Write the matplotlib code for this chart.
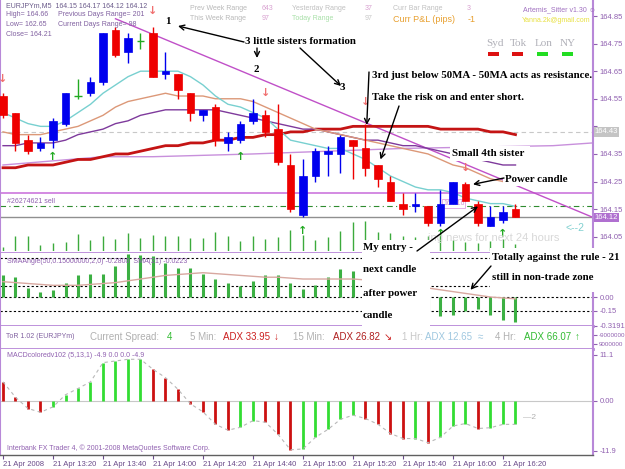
import matplotlib
matplotlib.use("Agg")
import matplotlib.pyplot as plt
from matplotlib.patches import Rectangle
from matplotlib.transforms import blended_transform_factory

W, H = 625, 469

# EURJPYm M5 candles, 21 Apr 2008 13:00 .. 16:25
opens = [164.56, 164.50, 164.40, 164.37, 164.40, 164.46, 164.56, 164.57, 164.61, 164.80,
         164.72, 164.76, 164.79, 164.64, 164.64, 164.57, 164.49, 164.52, 164.39, 164.40,
         164.47, 164.49, 164.44, 164.31, 164.13, 164.27, 164.35, 164.35, 164.40, 164.37,
         164.31, 164.25, 164.17, 164.16, 164.16, 164.10, 164.17, 164.24, 164.17, 164.09,
         164.11, 164.15]
highs = [164.57, 164.50, 164.42, 164.41, 164.48, 164.57, 164.62, 164.63, 164.79, 164.81,
         164.79, 164.79, 164.81, 164.72, 164.64, 164.57, 164.51, 164.53, 164.43, 164.47,
         164.55, 164.51, 164.53, 164.35, 164.33, 164.37, 164.38, 164.42, 164.40, 164.46,
         164.31, 164.27, 164.21, 164.21, 164.16, 164.22, 164.25, 164.25, 164.18, 164.16,
         164.16, 164.17]
lows = [164.48, 164.36, 164.35, 164.36, 164.37, 164.45, 164.55, 164.56, 164.60, 164.70,
        164.68, 164.73, 164.63, 164.62, 164.55, 164.47, 164.47, 164.38, 164.36, 164.39,
        164.46, 164.41, 164.31, 164.14, 164.12, 164.25, 164.27, 164.28, 164.26, 164.27,
        164.23, 164.18, 164.13, 164.14, 164.09, 164.09, 164.17, 164.18, 164.09, 164.09,
        164.10, 164.12]
closes = [164.49, 164.39, 164.36, 164.39, 164.47, 164.57, 164.56, 164.61, 164.79, 164.71,
          164.77, 164.76, 164.63, 164.65, 164.58, 164.50, 164.51, 164.40, 164.41, 164.46,
          164.50, 164.43, 164.32, 164.15, 164.27, 164.36, 164.36, 164.41, 164.38, 164.30,
          164.26, 164.18, 164.15, 164.17, 164.10, 164.17, 164.25, 164.18, 164.10, 164.12,
          164.14, 164.12]

ma_fast = [164.50, 164.48, 164.46, 164.45, 164.45, 164.47, 164.50, 164.53, 164.57, 164.60,
           164.63, 164.65, 164.65, 164.65, 164.65, 164.63, 164.60, 164.56, 164.53, 164.52,
           164.50, 164.48, 164.44, 164.40, 164.39, 164.38, 164.37, 164.37, 164.35, 164.33,
           164.30, 164.27, 164.25, 164.23, 164.22, 164.22, 164.21, 164.19, 164.18, 164.17,
           164.17, 164.16]
ma_mid = [164.43, 164.42, 164.42, 164.42, 164.43, 164.44, 164.45, 164.47, 164.49, 164.52,
          164.54, 164.55, 164.56, 164.57, 164.56, 164.56, 164.56, 164.55, 164.55, 164.55,
          164.54, 164.52, 164.50, 164.48, 164.46, 164.44, 164.43, 164.42, 164.41, 164.40,
          164.39, 164.38, 164.37, 164.36, 164.35, 164.33, 164.31, 164.30, 164.28, 164.26,
          164.25, 164.24]
ma_slow = [164.38, 164.38, 164.39, 164.39, 164.39, 164.40, 164.42, 164.43, 164.44, 164.46,
           164.47, 164.49, 164.50, 164.51, 164.51, 164.51, 164.51, 164.51, 164.50, 164.49,
           164.48, 164.47, 164.46, 164.45, 164.44, 164.44, 164.43, 164.42, 164.41, 164.40,
           164.40, 164.39, 164.38, 164.38, 164.37, 164.36, 164.35, 164.34, 164.33, 164.32,
           164.31, 164.31]
ma50 = [164.30, 164.30, 164.31, 164.31, 164.31, 164.32, 164.33, 164.33, 164.34, 164.35,
        164.35, 164.36, 164.37, 164.38, 164.38, 164.39, 164.39, 164.40, 164.40, 164.41,
        164.41, 164.42, 164.42, 164.43, 164.43, 164.44, 164.44, 164.44, 164.45, 164.45,
        164.45, 164.45, 164.45, 164.45, 164.45, 164.44, 164.44, 164.44, 164.44, 164.43,
        164.43, 164.42]
# shifted long MA runs past the last bar
long_ma_x = [0, 8, 12, 20, 26, 32, 44, 47.2]
long_ma = [164.31, 164.34, 164.34, 164.35, 164.36, 164.37, 164.38, 164.39]

trend_x = [9, 47.2]
trend_y = [164.84, 164.12]

prev_close = 164.21
order_price = 164.16
bid = 164.12
ask_mark = 164.43

down_sig = [0, 12, 21, 29, 37]
down_sig_y = [164.62, 164.87, 164.57, 164.54, 164.30]
up_sig = [4, 19, 24, 35, 40]
up_sig_y = [164.34, 164.34, 164.07, 164.06, 164.06]

volumes = [9, 30, 30, 13, 17, 19, 34, 22, 30, 25, 37, 27, 32, 30, 30, 27, 26, 39, 31, 20,
           30, 25, 29, 42, 33, 22, 28, 40, 59, 61, 38, 36, 30, 28, 30, 32, 22, 18, 16, 20,
           24, 14]

sma_angle = [0.25, 0.22, 0.10, 0.06, 0.08, 0.16, 0.25, 0.26, 0.26, 0.35, 0.48, 0.47, 0.46,
             0.38, 0.32, 0.32, 0.26, 0.20, 0.16, 0.12, 0.18, 0.25, 0.25, 0.16, 0.09, 0.13,
             0.22, 0.31, 0.29, 0.20, 0.12, 0.05, -0.04, -0.10, -0.16, -0.21, -0.20, -0.16,
             -0.13, -0.20, -0.26, -0.28]
sma_ma = [0.17, 0.16, 0.15, 0.14, 0.13, 0.13, 0.13, 0.14, 0.15, 0.16, 0.18, 0.20, 0.22,
          0.24, 0.25, 0.26, 0.27, 0.26, 0.25, 0.24, 0.23, 0.22, 0.22, 0.21, 0.20, 0.20,
          0.20, 0.20, 0.20, 0.19, 0.18, 0.16, 0.14, 0.12, 0.10, 0.08, 0.06, 0.04, 0.02,
          0.00, -0.01, -0.02]
sma_levels = [0.43, 0.12, 0.0, -0.15]

macd = [4.6, 0.9, -1.8, -2.7, -1.4, 1.5, 3.0, 4.6, 9.2, 9.6, 10.0, 10.0, 7.6, 5.6, 2.8,
        -0.7, -2.6, -5.6, -7.0, -6.3, -4.7, -5.1, -8.0, -11.7, -11.5, -8.7, -6.8, -4.4,
        -3.4, -4.2, -5.6, -7.8, -9.0, -9.0, -10.0, -8.7, -6.0, -5.4, -6.6, -6.4, -5.6, -5.6]
macd_up = [0, 0, 0, 0, 1, 1, 1, 1, 1, 1, 1, 1, 0, 0, 0, 0, 0, 0, 0, 1, 1, 0, 0, 0, 1, 1,
           1, 1, 1, 0, 0, 0, 0, 1, 0, 1, 1, 1, 0, 1, 1, 1]

date_pos = [0, 4, 8, 12, 16, 20, 24, 28, 32, 36, 40]
date_labels = ['21 Apr 2008', '21 Apr 13:20', '21 Apr 13:40', '21 Apr 14:00', '21 Apr 14:20',
               '21 Apr 14:40', '21 Apr 15:00', '21 Apr 15:20', '21 Apr 15:40', '21 Apr 16:00',
               '21 Apr 16:20']

idx = list(range(len(opens)))
PURPLE = '#B888D8'
LABEL = '#9060B0'
XL = (-0.24, 47.2)

fig = plt.figure(figsize=(W / 100, H / 100), dpi=100)
fig.patch.set_facecolor('white')


def rect(top, bottom, right=593):
    return [0, 1 - bottom / H, right / W, (bottom - top) / H]


def frame(a, lw_bottom=2):
    a.set_xlim(*XL)
    a.set_xticks([])
    for s in ['left', 'right']:
        a.spines[s].set_color(PURPLE)
        a.spines[s].set_linewidth(1.5)
    a.spines['top'].set_visible(False)
    a.spines['bottom'].set_color(PURPLE)
    a.spines['bottom'].set_linewidth(lw_bottom)
    a.yaxis.tick_right()
    a.tick_params(axis='y', direction='out', length=3, colors=LABEL, labelsize=5.5, pad=2)


# ---------------- main price panel
ax = fig.add_axes(rect(0, 253))
frame(ax)
ax.set_ylim(163.991, 164.908)
ticks = [164.05, 164.15, 164.25, 164.35, 164.45, 164.55, 164.65, 164.75, 164.85]
ax.set_yticks(ticks)
# 164.45 sits under the grey 164.43 marker box
ax.set_yticklabels(['' if t == 164.45 else '%.2f' % t for t in ticks], family='Liberation Sans')

ax.axhline(ask_mark, color='#C8C8C8', lw=0.8, ls=(0, (4, 3)))
ax.axhline(prev_close, color='#CC77DD', lw=1.2)
ax.axhline(order_price, color='#2E8B2E', lw=0.8, ls=(0, (5, 3, 1, 3)))
ax.axhline(bid, color='#909090', lw=1)

ax.plot(long_ma_x, long_ma, color='#C890DC', lw=1)
ax.plot(trend_x, trend_y, color='#C050C8', lw=1)
ax.plot(idx, ma50, color='#C41414', lw=2)
ax.plot(idx, ma_slow, color='#7E3A9C', lw=1)
ax.plot(idx, ma_mid, color='#DC9878', lw=1)
ax.plot(idx, ma_fast, color='#78D0D0', lw=1)

for i in idx:
    o, h, l, c = opens[i], highs[i], lows[i], closes[i]
    if o == c:
        col = '#22AA22'
    elif c > o:
        col = '#0000EE'
    else:
        col = '#EE0000'
    ax.vlines(i, l, h, color=col, lw=1, zorder=3)
    if o == c:
        ax.hlines(o, i - 0.3, i + 0.3, color=col, lw=1, zorder=3)
    else:
        ax.add_patch(Rectangle((i - 0.31, min(o, c)), 0.62, max(abs(c - o), 0.006),
                               facecolor=col, edgecolor=col, lw=0.5, zorder=4))

for i, y in zip(down_sig, down_sig_y):
    ax.text(i, y, '↓', color='#F07070', ha='center', va='center', fontsize=8, fontweight='bold')
for i, y in zip(up_sig, up_sig_y):
    ax.text(i, y, '↑', color='#22AA22', ha='center', va='center', fontsize=8, fontweight='bold')

ax.text(0.3, order_price + 0.017, '#26274621 sell', color='#9060B0', fontsize=5,
        family='Liberation Sans', va='center')
ax.text(35.2, order_price + 0.01, '164.16', color='#D090D0', fontsize=5, family='Liberation Sans',
        va='center', bbox=dict(fc='white', ec='#E0A0E0', lw=0.6, pad=0.6))
bt = blended_transform_factory(ax.transAxes, ax.transData)
ax.text(1.003, ask_mark, '164.43', transform=bt, color='white', fontsize=5.5,
        family='Liberation Sans', va='center', bbox=dict(fc='#C4C4C4', ec='none', pad=0.8))
ax.text(1.003, bid, '164.12', transform=bt, color='white', fontsize=5.5,
        family='Liberation Sans', va='center', bbox=dict(fc='#B070D0', ec='none', pad=0.8))

# volumes at the bottom of the main window
axv = fig.add_axes(rect(219, 251))
axv.set_xlim(*XL)
axv.set_ylim(0, 64)
axv.axis('off')
axv.patch.set_alpha(0)
axv.vlines(idx, 0, volumes, color='#3CAA3C', lw=1)

# ---------------- SMA angle panel
axs = fig.add_axes(rect(253, 326))
frame(axs)
axs.set_ylim(-0.322, 0.489)
axs.set_yticks([0.0, -0.15, -0.3191])
axs.set_yticklabels(['0.00', '-0.15', '-0.3191'], family='Liberation Sans')
for lv in sma_levels:
    axs.axhline(lv, color='black', lw=0.8, ls=(0, (2, 2)))
axs.vlines(idx, 0, sma_angle, color='#3CB043', lw=2.2)
axs.plot(idx, sma_ma, color='#D8A8A0', lw=1)
axs.text(0.3, 0.40, 'SMAAngle(50,0.15000000,2,0) -0.2800  SMA(21) -0.0223', color='#9060B0',
         fontsize=5, family='Liberation Sans', va='center')

# ---------------- ToR panel
axt = fig.add_axes(rect(326, 349))
frame(axt)
axt.set_ylim(0, 1)
axt.set_yticks([0.62, 0.2])
axt.set_yticklabels(['-9000000', '9000000'], family='Liberation Sans')
axt.tick_params(axis='y', labelsize=4.5, pad=1)

# ---------------- MACD panel
axm = fig.add_axes(rect(349, 455))
frame(axm, lw_bottom=1)
axm.spines['bottom'].set_color('#606060')
axm.set_ylim(-12.95, 12.47)
axm.set_yticks([11.1, 0.0, -11.9])
axm.set_yticklabels(['11.1', '0.00', '-11.9'], family='Liberation Sans')
axm.axhline(0, color='#C8C8C8', lw=0.8)
axm.vlines(idx, 0, macd, colors=['#33DD33' if u else '#CC1111' for u in macd_up], lw=2)
axm.plot(idx, macd, color='#B8B8B8', lw=0.8, ls=(0, (3, 3)))
axm.set_xticks(date_pos)
axm.set_xticklabels(date_labels, ha='left', family='Liberation Sans')
axm.tick_params(axis='x', direction='out', length=3, colors='#6A4A8A', labelsize=5.5, pad=1)
axm.text(0.3, 10.8, 'MACDcoloredv102 (5,13,1) -4.9 0.0 0.0 -4.9', color='#9060B0', fontsize=5,
         family='Liberation Sans', va='center')
axm.text(0.3, -11.3, 'Interbank FX Trader 4, \u00a9 2001-2008 MetaQuotes Software Corp.',
         color='#9060B0', fontsize=5, family='Liberation Sans', va='center')
axm.text(41.6, -4.0, '\u20142', color='#B0B0B0', fontsize=6, family='Liberation Sans', va='center')

# ---------------- overlay: terminal labels and hand annotations (pixel space)
ov = fig.add_axes([0, 0, 1, 1], zorder=10)
ov.set_xlim(0, W)
ov.set_ylim(H, 0)
ov.axis('off')
ov.patch.set_alpha(0)

sans = dict(family=['Liberation Sans', 'DejaVu Sans'], va='center')
hdr = '#8060A0'
ov.text(6, 6, 'EURJPYm,M5  164.15 164.17 164.12 164.12', color='#6A5A8A', fontsize=5, **sans)
ov.text(6, 15, 'High= 164.66', color=hdr, fontsize=5, **sans)
ov.text(6, 25, 'Low= 162.65', color=hdr, fontsize=5, **sans)
ov.text(6, 34, 'Close= 164.21', color=hdr, fontsize=5, **sans)
ov.text(58, 15, 'Previous Days Range= 201', color=hdr, fontsize=5, **sans)
ov.text(58, 25, 'Current Days Range= 98', color=hdr, fontsize=5, **sans)

ov.text(190, 9, 'Prev Week Range', color='#B8B8B8', fontsize=5, **sans)
ov.text(262, 9, '643', color='#D8A0D0', fontsize=5, **sans)
ov.text(190, 19, 'This Week Range', color='#B8B8B8', fontsize=5, **sans)
ov.text(262, 19, '97', color='#D8A0D0', fontsize=5, **sans)
ov.text(292, 9, 'Yesterday Range', color='#C0C0C0', fontsize=5, **sans)
ov.text(365, 9, '37', color='#D8A0D0', fontsize=5, **sans)
ov.text(292, 19, 'Today Range', color='#A8E0A8', fontsize=5, **sans)
ov.text(365, 19, '97', color='#C8C8C8', fontsize=5, **sans)
ov.text(393, 9, 'Curr Bar Range', color='#C0C0C0', fontsize=5, **sans)
ov.text(467, 9, '3', color='#D8A0D0', fontsize=5, **sans)
ov.text(393, 19, 'Curr P&L (pips)', color='#E8A030', fontsize=6.5, **sans)
ov.text(468, 19, '-1', color='#E8A030', fontsize=6.5, **sans)
ov.text(596, 10, 'Artemis_Sitter v1.30 \u263a', color='#A070C0', fontsize=5, ha='right', **sans)
ov.text(590, 20, 'Yanna.2k@gmail.com', color='#E8E040', fontsize=5, ha='right', **sans)

sess = ['Syd', 'Tok', 'Lon', 'NY']
sess_x = [486, 510, 535, 560]
sess_on = [0, 0, 1, 1]
for s, x, on in zip(sess, sess_x, sess_on):
    ov.text(x, 44, s, color='#B0B0B8', fontsize=8, family='Liberation Serif', va='center')
    ov.add_patch(Rectangle((x + 2, 52), 11, 4, fc='#22DD22' if on else '#DD1111', ec='none'))

ov.text(428, 238, 'ing news for next 24 hours', color='#D8D8D8', fontsize=8, **sans)
ov.text(566, 228, '<--2', color='#80D0D0', fontsize=7.5, **sans)
ov.add_patch(Rectangle((593.5, 224), 31.5, 8, fc='white', ec='none'))

# ToR line
ov.text(6, 337, 'ToR 1.02 (EURJPYm)', color='#8060A0', fontsize=5, **sans)
tor = [(90, 'Current Spread:', '#B0B0B0'), (167, '4', '#33BB33'), (190, '5 Min:', '#B0B0B0'),
       (223, 'ADX 33.95', '#CC2020'), (274, '\u2193', '#CC2020'), (293, '15 Min:', '#B0B0B0'),
       (333, 'ADX 26.82', '#B02020'), (384, '\u2198', '#CC2020'), (402, '1 Hr:', '#C8C8C8'),
       (425, 'ADX 12.65', '#A0C8E0'), (478, '\u2248', '#A0C8E0'), (495, '4 Hr:', '#B0B0B0'),
       (524, 'ADX 66.07', '#33BB33'), (575, '\u2191', '#33BB33')]
for x, s, c in tor:
    ov.text(x, 337, s, color=c, fontsize=7, **sans)

# white note boxes pasted over the chart
ov.add_patch(Rectangle((362, 240), 68, 88, fc='white', ec='none', zorder=5))
ov.add_patch(Rectangle((490, 248), 135, 44, fc='white', ec='none', zorder=5))
ov.add_patch(Rectangle((450, 146), 80, 15, fc='white', ec='none', zorder=5))
ov.add_patch(Rectangle((503, 172), 68, 14, fc='white', ec='none', zorder=5))

note = dict(family='Liberation Serif', fontweight='bold', fontsize=7.8, color='black',
            va='center', zorder=6)
ov.text(165, 22, '1', **note)
ov.text(245, 42, '3 little sisters formation', **note)
ov.text(254, 69, '2', **note)
ov.text(339, 87, '3', **note)
ov.text(372, 75, '3rd just below 50MA - 50MA acts as resistance.', **note)
ov.text(372, 98, 'Take the risk on and enter short.', **note)
ov.text(452, 153, 'Small 4th sister', **note)
ov.text(505, 179, 'Power candle', **note)
ov.text(363, 248, 'My entry -', **note)
ov.text(363, 270, 'next candle', **note)
ov.text(363, 293, 'after power', **note)
ov.text(363, 315, 'candle', **note)
ov.text(492, 257, 'Totally against the rule - 21', **note)
ov.text(492, 278, 'still in non-trade zone', **note)

arw = dict(arrowstyle='->', color='black', lw=1, shrinkA=0, shrinkB=0, mutation_scale=9)
px = ov.transData
ov.annotate('', xy=(178, 26), xytext=(244, 42), arrowprops=arw, zorder=6)
ov.annotate('', xy=(257, 58), xytext=(257, 48), arrowprops=arw, zorder=6)
ov.annotate('', xy=(341, 86), xytext=(300, 48), arrowprops=arw, zorder=6)
ov.annotate('', xy=(29.1, 164.455), xycoords=ax.transData, xytext=(369, 72), textcoords=px,
            arrowprops=arw, zorder=6)
ov.annotate('', xy=(30.2, 164.33), xycoords=ax.transData, xytext=(399, 106), textcoords=px,
            arrowprops=arw, zorder=6)
ov.annotate('', xy=(37.6, 164.24), xycoords=ax.transData, xytext=(504, 178), textcoords=px,
            arrowprops=arw, zorder=6)
ov.annotate('', xy=(38.0, 164.16), xycoords=ax.transData, xytext=(417, 251), textcoords=px,
            arrowprops=arw, zorder=6)
ov.annotate('', xy=(37.4, 0.08), xycoords=axs.transData, xytext=(491, 266), textcoords=px,
            arrowprops=arw, zorder=6)

fig.savefig('out.png', dpi=100, facecolor='white')
